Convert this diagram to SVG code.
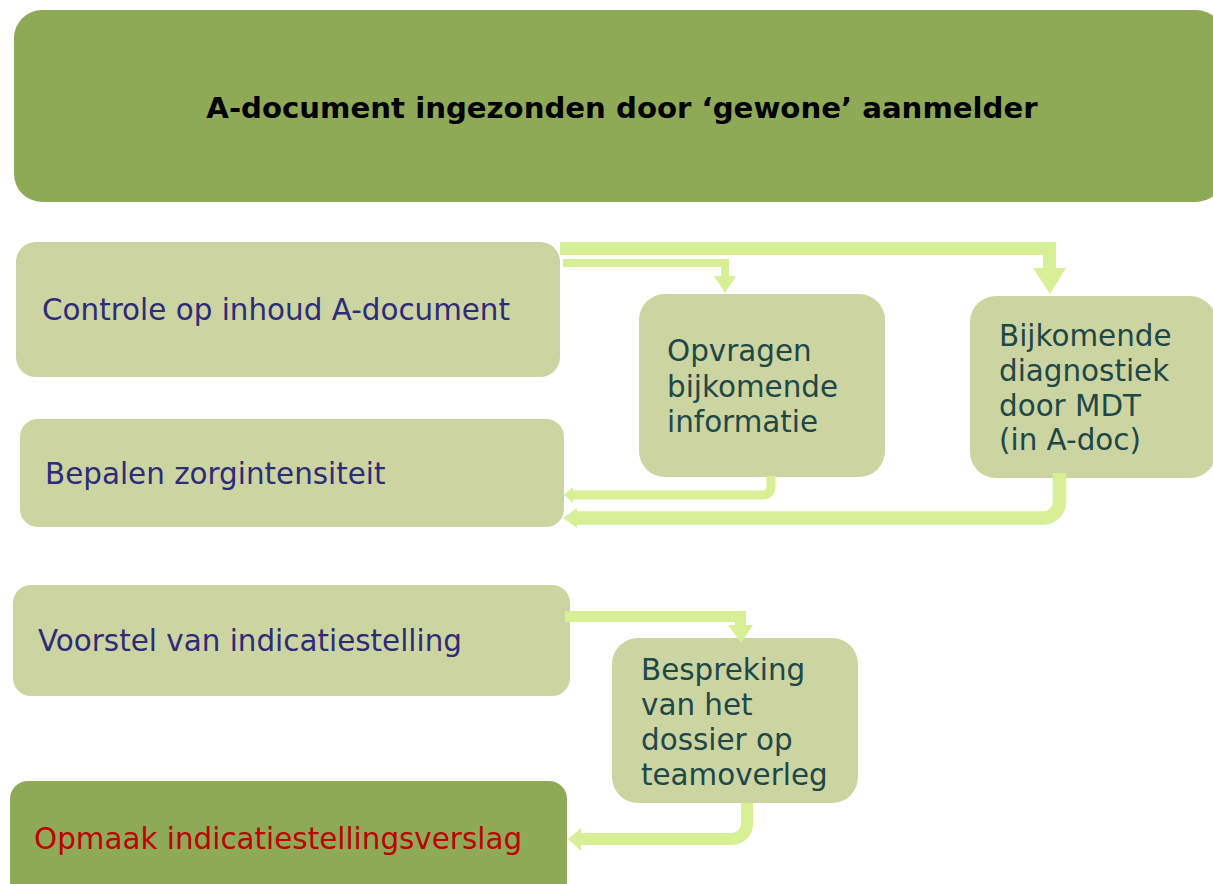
<svg xmlns="http://www.w3.org/2000/svg" width="1213" height="884" viewBox="0 0 1213 884">
<style>
.dark{fill:#8FAA57}
.light{fill:#CCD4A2}
.t{font-family:"DejaVu Sans","Verdana",sans-serif;font-size:29.4px}
.navy{fill:#2E2B78}
.teal{fill:#1E4848}
.red{fill:#C00000}
.title{font-family:"DejaVu Sans","Verdana",sans-serif;font-size:29.2px;font-weight:bold;fill:#000}
.c{fill:#D7F095}
.cs{fill:none;stroke:#D7F095}
</style>
<rect width="1213" height="884" fill="#FFFFFF"/>
<g id="title">
<rect class="dark" x="14" y="10" width="1210" height="192" rx="28"/>
<text class="title" x="622" y="118" text-anchor="middle">A-document ingezonden door ‘gewone’ aanmelder</text>
</g>
<g id="controle">
<rect class="light" x="16" y="242" width="544" height="135" rx="20"/>
<text class="t navy" x="42" y="320">Controle op inhoud A-document</text>
</g>
<g id="bepalen">
<rect class="light" x="20" y="419" width="544" height="108" rx="18"/>
<text class="t navy" x="45" y="484">Bepalen zorgintensiteit</text>
</g>
<g id="voorstel">
<rect class="light" x="13" y="585" width="557" height="111" rx="18"/>
<text class="t navy" x="38" y="651">Voorstel van indicatiestelling</text>
</g>
<g id="opmaak">
<rect class="dark" x="10" y="781" width="557" height="120" rx="18"/>
<text class="t red" x="34" y="849">Opmaak indicatiestellingsverslag</text>
</g>
<g id="opvragen">
<rect class="light" x="639" y="294" width="246" height="183" rx="26"/>
<text class="t teal" x="667"><tspan x="667" y="361">Opvragen</tspan><tspan x="667" y="397">bijkomende</tspan><tspan x="667" y="432">informatie</tspan></text>
</g>
<g id="bijkomende">
<rect class="light" x="970" y="296" width="246" height="182" rx="26"/>
<text class="t teal" x="999"><tspan x="999" y="346">Bijkomende</tspan><tspan x="999" y="381">diagnostiek</tspan><tspan x="999" y="416">door MDT</tspan><tspan x="999" y="450">(in A-doc)</tspan></text>
</g>
<g id="bespreking">
<rect class="light" x="612" y="638" width="246" height="165" rx="26"/>
<text class="t teal" x="641"><tspan x="641" y="680">Bespreking</tspan><tspan x="641" y="715">van het</tspan><tspan x="641" y="750">dossier op</tspan><tspan x="641" y="785">teamoverleg</tspan></text>
</g>
<g id="connectors">
<path class="c" d="M560,242 H1056 V268 H1066 L1050,294 L1033,268 H1043 V255 H560 Z"/>
<path class="c" d="M563,259 H729 V276 H736 L725,293 L714,276 H721 V267 H563 Z"/>
<path class="cs" stroke-width="9" d="M771,476 V486 Q771,495 762,495 H572"/>
<polygon class="c" points="564,495 573,487 573,503"/>
<path class="cs" stroke-width="13.5" d="M1059.5,473 V502 A16,16 0 0 1 1043.5,518 H575"/>
<polygon class="c" points="563,518 577,508 577,528"/>
<path class="c" d="M565,611 H746 V625 H753 L741,643 L728,625 H735 V622 H565 Z"/>
<path class="cs" stroke-width="12" d="M747,803 V824 A15,15 0 0 1 732,839 H579"/>
<polygon class="c" points="568,839 581,828 581,851"/>
</g>
</svg>
